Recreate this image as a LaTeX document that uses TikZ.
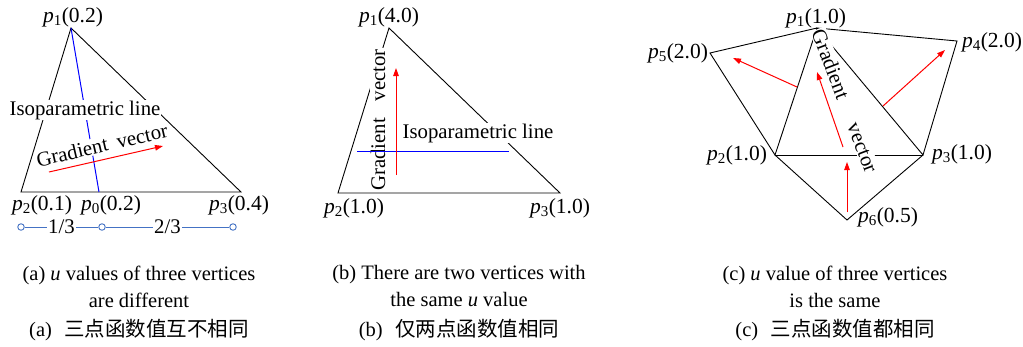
\documentclass[tikz,border=0pt]{standalone}
\usepackage{fontspec}
\setmainfont{Liberation Serif}
\newfontfamily\cjk{Noto Sans CJK SC}
\usetikzlibrary{arrows.meta}
\definecolor{scalebl}{RGB}{68,114,196}
\newcommand\vlab[2]{\textit{p}\textsubscript{#1}(#2)}
\begin{document}
\begin{tikzpicture}[x=1pt,y=-1pt,
  edgeln/.style={black,line width=0.9pt},
  iso/.style={blue,line width=1pt},
  grad/.style={red,line width=1pt,-{Triangle[length=8pt,width=5.5pt]}},
  lbl/.style={font=\fontsize{21.5}{24}\selectfont,inner sep=1pt},
  txt/.style={font=\fontsize{20.8}{24}\selectfont,fill=white,inner sep=1pt},
  captxt/.style={font=\fontsize{20.5}{27}\selectfont,align=center,inner sep=0pt},
  scl/.style={scalebl,line width=0.9pt},
  sdot/.style={circle,draw=scalebl,fill=white,inner sep=0pt,minimum size=6.5pt,line width=0.9pt}
]
\useasboundingbox (0,0) rectangle (1023,346);

% ---------- panel (a)
\coordinate (a1) at (71,28);
\coordinate (a2) at (21,192);
\coordinate (a3) at (241,192);
\coordinate (a0) at (99,192);
\draw[edgeln] (a1) -- (a2) -- (a3) -- cycle;
\draw[iso] (a1) -- (a0);
\node[txt] (aiso) at (85,110) {Isoparametric line};
\node[txt,rotate=13] (agt) at (102,145) {Gradient\hspace{0.45em}vector};
\coordinate (ag0) at (49,172);
\coordinate (ag1) at (163,146);
\draw[grad] (ag0) -- (ag1);
\node[lbl] (la1) at (73,17) {\vlab{1}{0.2}};
\node[lbl] (la2) at (42,205) {\vlab{2}{0.1}};
\node[lbl] (la0) at (111,205) {\vlab{0}{0.2}};
\node[lbl] (la3) at (239,205) {\vlab{3}{0.4}};
\node[sdot] (s1) at (21,227) {};
\node[sdot] (s0) at (102,227) {};
\node[sdot] (s3) at (233,227) {};
\draw[scl] (s1) -- node[txt,text=black] (t13) {1/3} (s0) -- node[txt,text=black] (t23) {2/3} (s3);

% ---------- panel (b)
\coordinate (b1) at (389,28);
\coordinate (b2) at (338,193);
\coordinate (b3) at (560,193);
\draw[edgeln] (b1) -- (b2) -- (b3) -- cycle;
\node[txt,rotate=90] (bgt) at (378,120) {Gradient\hspace{0.8em}vector};
\node[txt] (biso) at (478,133) {Isoparametric line};
\coordinate (bl) at (357,151);
\coordinate (br) at (509,151);
\draw[iso] (bl) -- (br);
\coordinate (bg0) at (396,175);
\coordinate (bg1) at (396,68);
\draw[grad] (bg0) -- (bg1);
\node[lbl] (lb1) at (389,17) {\vlab{1}{4.0}};
\node[lbl] (lb2) at (354,208) {\vlab{2}{1.0}};
\node[lbl] (lb3) at (560,208) {\vlab{3}{1.0}};

% ---------- panel (c)
\coordinate (c1) at (817,28);
\coordinate (c5) at (710,53);
\coordinate (c4) at (957,41);
\coordinate (c2) at (775,155);
\coordinate (c3) at (923,155);
\coordinate (c6) at (847,220);
\draw[edgeln] (c1) -- (c5) -- (c2) -- (c1) -- (c3) -- (c4) -- cycle;
\draw[edgeln] (c2) -- (c3);
\draw[edgeln] (c2) -- (c6) -- (c3);
\node[txt,rotate=-69] (cgt) at (845,101) {Gradient\hspace{1.3em}vector};
\coordinate (cg1a) at (797,87);  \coordinate (cg1b) at (733,58);
\coordinate (cg2a) at (843,147); \coordinate (cg2b) at (817,72);
\coordinate (cg3a) at (883,106); \coordinate (cg3b) at (945,50);
\coordinate (cg4a) at (847,212); \coordinate (cg4b) at (847,162);
\draw[grad] (cg1a) -- (cg1b);
\draw[grad] (cg2a) -- (cg2b);
\draw[grad] (cg3a) -- (cg3b);
\draw[grad] (cg4a) -- (cg4b);
\node[lbl] (lc1) at (816,18) {\vlab{1}{1.0}};
\node[lbl] (lc5) at (678,53) {\vlab{5}{2.0}};
\node[lbl] (lc4) at (992,42) {\vlab{4}{2.0}};
\node[lbl] (lc2) at (737,155) {\vlab{2}{1.0}};
\node[lbl] (lc3) at (962,154) {\vlab{3}{1.0}};
\node[lbl] (lc6) at (888,217) {\vlab{6}{0.5}};

% ---------- captions
\node[captxt] (capa) at (139,286.5) {(a) \textit{u} values of three vertices\\are different};
\node[captxt] (capacn) at (139,330) {(a)\hspace{0.6em}{\cjk 三点函数值互不相同}};
\node[captxt] (capb) at (459,286.5) {(b) There are two vertices with\\the same \textit{u} value};
\node[captxt] (capbcn) at (459,330) {(b)\hspace{0.6em}{\cjk 仅两点函数值相同}};
\node[captxt] (capc) at (835,286.5) {(c) \textit{u} value of three vertices\\is the same};
\node[captxt] (capccn) at (835,330) {(c)\hspace{0.6em}{\cjk 三点函数值都相同}};
\end{tikzpicture}
\end{document}
